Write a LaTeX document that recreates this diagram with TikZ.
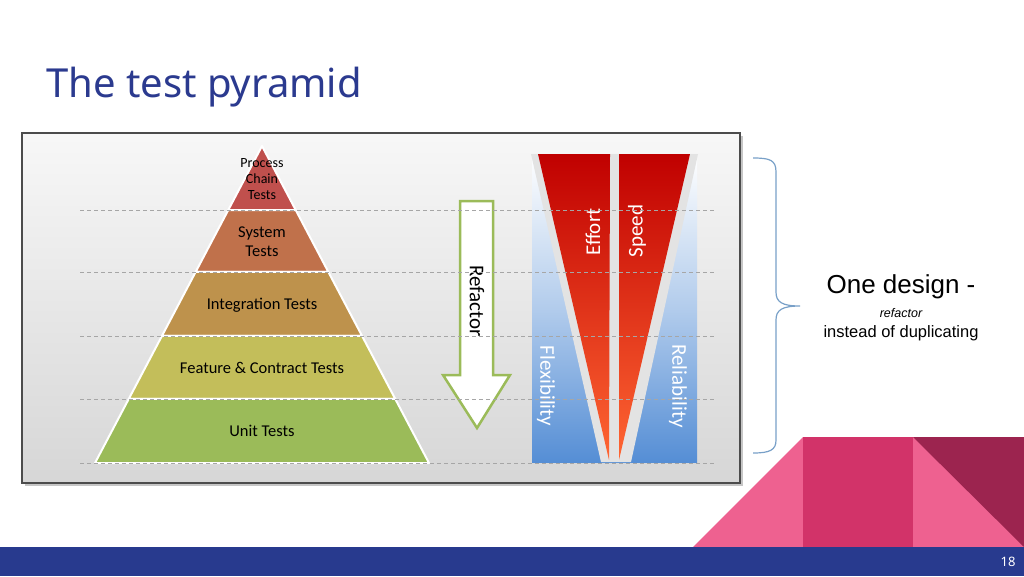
\documentclass[tikz,border=0pt]{standalone}
\usepackage{fontspec}
\setmainfont{Liberation Sans}
\newfontfamily\carlito{Carlito}
\newfontfamily\notosans{Noto Sans}
\usepackage{tikz}
\usetikzlibrary{calc}
\definecolor{titleblue}{RGB}{43,58,143}
\definecolor{barblue}{RGB}{40,58,142}
\definecolor{layer1}{RGB}{192,80,77}
\definecolor{layer2}{RGB}{192,113,75}
\definecolor{layer3}{RGB}{190,146,76}
\definecolor{layer4}{RGB}{195,190,90}
\definecolor{layer5}{RGB}{155,187,89}
\definecolor{arrowgreen}{RGB}{155,187,89}
\definecolor{colblue}{RGB}{85,142,213}
\definecolor{darkred}{RGB}{192,0,0}
\definecolor{lightred}{RGB}{255,102,51}
\definecolor{bracecol}{RGB}{120,160,200}
\definecolor{pinklight}{RGB}{238,97,144}
\definecolor{pinkmid}{RGB}{210,51,105}
\definecolor{maroon}{RGB}{156,36,79}
\tikzset{
layer/.style = {draw = white, line width = 2pt, line join = round},
layer text/.style = {black, font = \carlito\fontsize{16.5}{19}\selectfont, align = center},
dash line/.style = {draw = gray!70, dashed, dash pattern = on 4pt off 3pt, line width = 0.8pt},
wedge/.style = {top color = darkred, bottom color = lightred},
col text/.style = {white, font = \carlito\fontsize{21}{21}\selectfont},
note/.style = {black, anchor = base, font = \fontsize{16.5}{16.5}\selectfont},
}
\begin{document}
\begin{tikzpicture}[x = 1pt, y = -1pt]
\useasboundingbox (0, 0) rectangle (1024, 576);
\fill[white] (0, 0) rectangle (1024, 576);
\node[titleblue, anchor = base west, inner sep = 0pt, font = \notosans\fontsize{40}{40}\selectfont] (title) at (46, 97) {The test pyramid};
% picture frame
\fill[gray!45] (25, 136) rectangle (743, 486);
\path[draw = black!70, line width = 1.2pt, top color = gray!6, bottom color = gray!32] (22, 133) rectangle (740, 483);
% pyramid
\coordinate (apex) at (262, 146);
\coordinate (base left) at (95, 463);
\coordinate (base right) at (429, 463);
\foreach \ta/\tb/\col in {0/0.202/layer1, 0.202/0.397/layer2, 0.397/0.599/layer3, 0.599/0.798/layer4, 0.798/1/layer5}
  \path[layer, fill = \col] ($(apex)!\ta!(base left)$) -- ($(apex)!\tb!(base left)$) -- ($(apex)!\tb!(base right)$) -- ($(apex)!\ta!(base right)$) -- cycle;
\node[layer text, font = \carlito\fontsize{14}{16}\selectfont] (process) at (262, 179) {Process\\Chain\\Tests};
\node[layer text] (system) at (262, 242) {System\\Tests};
\node[layer text] (integration) at (262, 305) {Integration Tests};
\node[layer text] (feature) at (262, 368) {Feature \& Contract Tests};
\node[layer text] (unit) at (262, 431) {Unit Tests};
% refactor arrow
\path[draw = arrowgreen, fill = white, line width = 2.5pt] (460, 201) -- (493, 201) -- (493, 375) -- (510, 375) -- (477, 428) -- (443, 375) -- (460, 375) -- cycle;
\node[black, rotate = -90, font = \carlito\fontsize{21}{21}\selectfont] (refactor) at (477, 301) {Refactor};
% columns
\path[top color = white, bottom color = colblue, middle color = colblue!45] (532, 154) rectangle (697, 462);
\fill[gray!22] (531, 154) -- (698, 154) -- (631, 462) -- (601, 462) -- cycle;
\path[wedge] (538, 154) -- (610, 154) -- (609, 460) -- cycle;
\path[wedge] (619, 154) -- (690, 154) -- (619, 460) -- cycle;
\node[col text, rotate = 90] (effort) at (593, 232) {Effort};
\node[col text, rotate = 90] (speed) at (637, 231) {Speed};
\node[col text, rotate = -90] (flexibility) at (546, 386) {Flexibility};
\node[col text, rotate = -90] (reliability) at (678, 386) {Reliability};
\foreach \y in {210, 272, 336, 399, 463}
  \draw[dash line] (80, \y) -- (715, \y);
% brace and note
\draw[bracecol, line width = 1.2pt] (753, 158) .. controls (770, 158) and (776, 160) .. (776, 172) -- (776, 292) .. controls (776, 302) and (782, 306) .. (800, 306) .. controls (782, 306) and (776, 310) .. (776, 320) -- (776, 440) .. controls (776, 450) and (770, 453) .. (753, 453);
\node[note, font = \fontsize{26}{26}\selectfont] (design) at (901, 293) {One design -};
\node[note, font = \itshape\fontsize{12.5}{12.5}\selectfont] (refac) at (901, 317) {refactor};
\node[note] (dup) at (901, 337) {instead of duplicating};
% footer
\fill[pinklight] (693, 547) -- (803, 437) -- (803, 547) -- cycle;
\fill[pinkmid] (803, 437) rectangle (913, 547);
\fill[pinklight] (913, 437) rectangle (1024, 547);
\fill[maroon] (913, 437) -- (1024, 437) -- (1024, 547) -- cycle;
\fill[barblue] (0, 547) rectangle (1024, 576);
\node[white, font = \notosans\fontsize{13}{13}\selectfont] (page) at (1008, 562) {18};
\end{tikzpicture}
\end{document}
